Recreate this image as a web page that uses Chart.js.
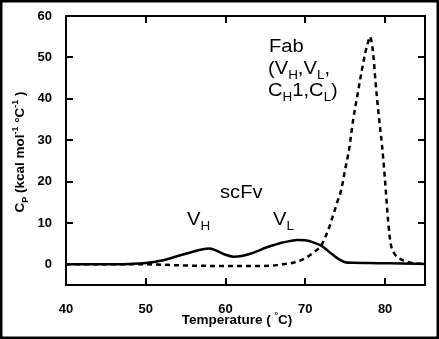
<!DOCTYPE html>
<html>
<head>
<meta charset="utf-8">
<script src="https://cdn.jsdelivr.net/npm/chart.js@4.4.1/dist/chart.umd.min.js"></script>
<style>
  html, body { margin: 0; padding: 0; background: #fff; }
  canvas { display: block; }
</style>
</head>
<body>
<canvas id="dscChart" width="439" height="339"></canvas>
<script>
// temperatures (°C) and excess heat capacity (kcal/mol/°C)
const scfvTemp = [40, 44, 48, 50, 52, 54, 55.5, 57, 58, 59, 60, 61, 62, 63, 64, 65, 66, 67, 68, 69, 70, 71, 72, 73, 74, 75, 76, 78, 80, 82, 85];
const scfvCp   = [0, 0, 0.1, 0.3, 0.9, 2.0, 2.8, 3.6, 3.8, 3.2, 2.3, 1.85, 2.0, 2.5, 3.2, 4.0, 4.6, 5.2, 5.6, 5.9, 5.8, 5.3, 4.5, 3.0, 1.5, 0.5, 0.35, 0.3, 0.25, 0.2, 0.1];

const fabTemp = [40, 50, 52, 55, 60, 64, 66, 67, 68, 69, 70, 71, 72, 73, 73.5, 74, 74.5, 75, 75.5, 76, 76.5, 77, 77.5, 78, 78.1, 78.5, 78.8, 79.2, 79.6, 80, 80.4, 80.7, 81.1, 82, 83, 84, 85];
const fabCp   = [0, 0, -0.1, -0.3, -0.4, -0.4, -0.3, 0, 0.2, 0.7, 1.5, 2.8, 4.6, 9, 12, 15, 18, 23, 28, 35, 40.5, 46, 51, 54.5, 55, 51, 44, 36, 29, 20, 10, 5, 2.8, 1.2, 0.5, 0.2, 0.1];

const xTickValues = [40, 50, 60, 70, 80];
const yTickValues = [0, 10, 20, 30, 40, 50, 60];

const FAMILY = '"Liberation Sans", Arial, Helvetica, sans-serif';
Chart.defaults.font.family = FAMILY;
Chart.defaults.color = '#000';

// text with sub/superscripts, returns width
function richText(ctx, x, y, parts, size, weight, draw) {
  let cx = x;
  parts.forEach(p => {
    const small = p.sub || p.sup;
    const s = small ? Math.round(size * 0.66) : size;
    ctx.font = `${weight} ${s}px ${FAMILY}`;
    const dy = p.sub ? size * 0.28 : p.sup ? -size * 0.42 : 0;
    if (draw) ctx.fillText(p.t, cx, y + dy);
    cx += ctx.measureText(p.t).width;
  });
  return cx - x;
}

function label(ctx, x, y, parts, size, weight, sx) {
  ctx.save();
  ctx.translate(x, y);
  ctx.scale(sx, 1);
  richText(ctx, 0, 0, parts, size, weight, true);
  ctx.restore();
}

const framePlugin = {
  id: 'frame',
  afterDraw(chart) {
    const { ctx, chartArea: a, scales: { x, y } } = chart;
    ctx.save();
    ctx.strokeStyle = '#000';
    ctx.fillStyle = '#000';
    ctx.lineWidth = 2;
    ctx.strokeRect(a.left, a.top, a.right - a.left, a.bottom - a.top);

    // inward ticks on all four sides
    xTickValues.forEach(v => {
      const px = Math.round(x.getPixelForValue(v));
      ctx.fillRect(px - 1, a.bottom - 7, 2, 7);
      ctx.fillRect(px - 1, a.top, 2, 7);
    });
    yTickValues.forEach(v => {
      const py = Math.round(y.getPixelForValue(v));
      ctx.fillRect(a.left, py - 1, 7, 2);
      ctx.fillRect(a.right - 7, py - 1, 7, 2);
    });

    // outer border
    ctx.lineWidth = 2.5;
    ctx.strokeRect(1.25, 1.25, chart.width - 2.5, chart.height - 2.5);

    ctx.textBaseline = 'alphabetic';
    ctx.textAlign = 'left';

    // peak labels
    const sx = 1.12;
    label(ctx, 269, 52, [{ t: 'Fab' }], 18, 'normal', sx);
    label(ctx, 268, 74, [{ t: '(V' }, { t: 'H', sub: 1 }, { t: ',V' }, { t: 'L', sub: 1 }, { t: ',' }], 18, 'normal', sx);
    label(ctx, 268, 96, [{ t: 'C' }, { t: 'H', sub: 1 }, { t: '1,C' }, { t: 'L', sub: 1 }, { t: ')' }], 18, 'normal', sx);
    label(ctx, 220, 198, [{ t: 'scFv' }], 18, 'normal', sx);
    label(ctx, 187, 225, [{ t: 'V' }, { t: 'H', sub: 1 }], 18, 'normal', sx);
    label(ctx, 273, 225, [{ t: 'V' }, { t: 'L', sub: 1 }], 18, 'normal', sx);

    // x axis title
    const xt = [{ t: 'Temperature ( ' }, { t: '°', sup: 1 }, { t: 'C)' }];
    const xw = richText(ctx, 0, 0, xt, 13.5, 'bold', false);
    richText(ctx, 237 - xw / 2, 324, xt, 13.5, 'bold', true);

    // y axis title
    const yt = [{ t: 'C' }, { t: 'P', sub: 1 }, { t: ' (kcal mol' }, { t: '-1', sup: 1 }, { t: ' °C' }, { t: '-1', sup: 1 }, { t: ' )' }];
    const yw = richText(ctx, 0, 0, yt, 13.5, 'bold', false);
    ctx.translate(24, 152);
    ctx.rotate(-Math.PI / 2);
    richText(ctx, -yw / 2, 0, yt, 13.5, 'bold', true);
    ctx.restore();
  }
};

const ctx = document.getElementById('dscChart').getContext('2d');

new Chart(ctx, {
  type: 'line',
  data: {
    datasets: [{
      label: 'scFv',
      data: scfvTemp.map((t, i) => ({ x: t, y: scfvCp[i] })),
      borderColor: '#000',
      borderWidth: 2.5,
      pointRadius: 0,
      cubicInterpolationMode: 'monotone',
      fill: false
    }, {
      label: 'Fab',
      data: fabTemp.map((t, i) => ({ x: t, y: fabCp[i] })),
      borderColor: '#000',
      borderWidth: 2.5,
      borderDash: [5, 4],
      pointRadius: 0,
      cubicInterpolationMode: 'monotone',
      fill: false
    }]
  },
  options: {
    responsive: false,
    animation: false,
    layout: {
      padding: { left: 0, top: 16, right: 14, bottom: 0 }
    },
    plugins: {
      legend: { display: false },
      tooltip: { enabled: false }
    },
    scales: {
      x: {
        type: 'linear',
        min: 40,
        max: 85,
        grid: { display: false },
        border: { display: false },
        afterBuildTicks: s => { s.ticks = xTickValues.map(v => ({ value: v })); },
        afterFit: s => { s.height = 54; },
        ticks: {
          padding: 9,
          maxRotation: 0,
          autoSkip: false,
          font: { size: 13, weight: 'bold' }
        }
      },
      y: {
        min: -5,
        max: 60,
        grid: { display: false },
        border: { display: false },
        afterBuildTicks: s => { s.ticks = yTickValues.map(v => ({ value: v })); },
        afterFit: s => { s.width = 66; },
        ticks: {
          padding: 6,
          font: { size: 13, weight: 'bold' }
        }
      }
    }
  },
  plugins: [framePlugin]
});
</script>
</body>
</html>
